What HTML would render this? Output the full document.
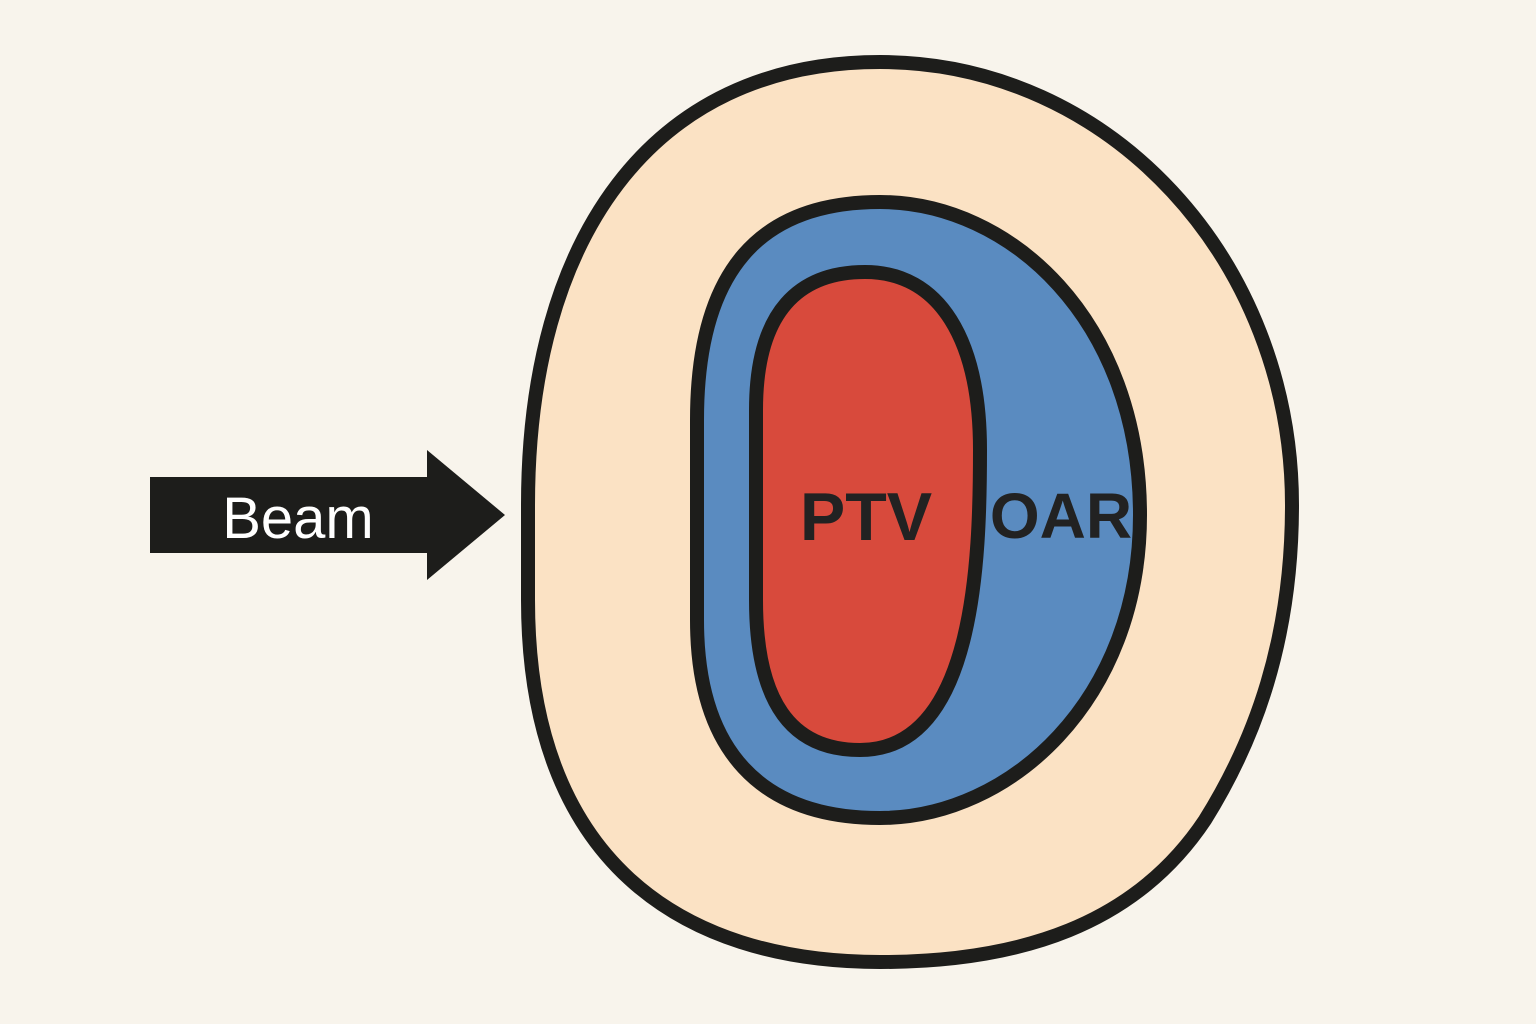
<!DOCTYPE html>
<html><head><meta charset="utf-8"><style>
html,body{margin:0;padding:0;background:#f8f4ec;}
svg{display:block;}
</style></head><body>
<svg width="1536" height="1024" viewBox="0 0 1536 1024" xmlns="http://www.w3.org/2000/svg">
<rect width="1536" height="1024" fill="#f8f4ec"/>
<path d="M528,505 C528,240 650,62 880,62 C1110,62 1292,260 1292,505 C1292,640 1255,740 1205,820 C1135,925 1020,962 880,962 C680,962 528,860 528,600 Z" fill="#fbe2c4" stroke="#1d1d1b" stroke-width="14"/>
<path d="M697,420 C697,270 760,202 880,202 C1010,202 1140,320 1140,515 C1140,700 1010,818 880,818 C760,818 697,750 697,620 Z" fill="#5a8bc0" stroke="#1d1d1b" stroke-width="14"/>
<path d="M756,410 C756,310 800,272 865,272 C940,272 980,340 980,450 C980,560 975,750 860,750 C790,750 756,700 756,600 Z" fill="#d84a3c" stroke="#1d1d1b" stroke-width="14"/>
<polygon points="150,477 427,477 427,450 505,515 427,580 427,553 150,553" fill="#1d1d1b"/>
<text x="298" y="538" text-anchor="middle" font-family="Liberation Sans, sans-serif" font-size="58" fill="#fff">Beam</text>
<text x="866" y="540" text-anchor="middle" font-family="Liberation Sans, sans-serif" font-weight="bold" font-size="68" fill="#222">PTV</text>
<text x="1061" y="538" text-anchor="middle" font-family="Liberation Sans, sans-serif" font-weight="bold" font-size="64" fill="#222">OAR</text>
</svg>
</body></html>
